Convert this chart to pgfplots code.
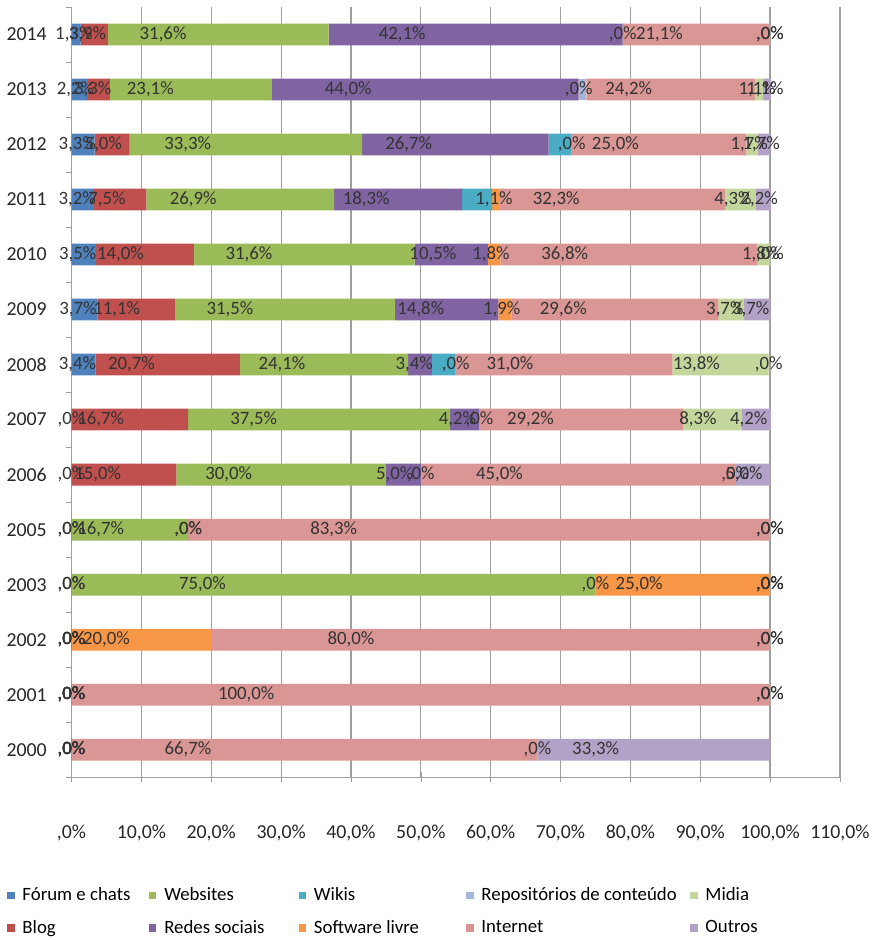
\documentclass[border=0pt]{standalone}
\usepackage{pgfplots}
\usepackage{pgfplotstable}
\pgfplotsset{compat=1.18}
\usepackage{fontspec}
\setmainfont{Carlito}

\definecolor{cForum}{HTML}{4F81BD}
\definecolor{cBlog}{HTML}{C0504D}
\definecolor{cWeb}{HTML}{9BBB59}
\definecolor{cRedes}{HTML}{8064A2}
\definecolor{cWiki}{HTML}{4BACC6}
\definecolor{cSoft}{HTML}{F79646}
\definecolor{cRepo}{HTML}{A5B8D9}
\definecolor{cNet}{HTML}{D99694}
\definecolor{cMidia}{HTML}{C3D69B}
\definecolor{cOutros}{HTML}{B3A2C7}

% pos: 0 = 2000 (bottom) ... 13 = 2014 (top)
\pgfplotstableread{
pos year F   B    W    R    Wk  S    Rp  I     M    O
0   2000 0   0    0    0    0   0    0   66.7  0    33.3
1   2001 0   0    0    0    0   0    0   100.0 0    0
2   2002 0   0    0    0    0   20.0 0   80.0  0    0
3   2003 0   0    75.0 0    0   25.0 0   0     0    0
4   2005 0   0    16.7 0    0   0    0   83.3  0    0
5   2006 0   15.0 30.0 5.0  0   0    0   45.0  0    5.0
6   2007 0   16.7 37.5 4.2  0   0    0   29.2  8.3  4.2
7   2008 3.4 20.7 24.1 3.4  3.4 0    0   31.0  13.8 0
8   2009 3.7 11.1 31.5 14.8 0   1.9  0   29.6  3.7  3.7
9   2010 3.5 14.0 31.6 10.5 0   1.8  0   36.8  1.8  0
10  2011 3.2 7.5  26.9 18.3 4.3 1.1  0   32.3  4.3  2.2
11  2012 3.3 5.0  33.3 26.7 3.3 0    0   25.0  1.7  1.7
12  2013 2.2 3.3  23.1 44.0 0   0    1.1 24.2  1.1  1.1
13  2014 1.3 3.9  31.6 42.1 0   0    0   21.1  0    0
}\datatable

% axis is 388pt wide for 110 units; the shift style gets applied twice,
% so each pass moves a quarter unit = 0.881818pt per unit
\pgfplotsset{
  half shift/.code={%
    \pgfkeys{/pgf/fpu=true,/pgf/fpu/output format=fixed}%
    \pgfmathsetmacro\halfshift{\pgfplotspointmeta*0.881818}%
    \pgfkeys{/pgf/fpu=false}%
  },
  seglabel/.style={
    nodes near coords={\pgfmathprintnumber[fixed,fixed zerofill,precision=1,use comma,skip 0.]{\pgfplotspointmeta}\%},
    nodes near coords align={anchor=center},
    every node near coord/.style={/pgfplots/half shift, xshift=-\halfshift,
      anchor=center, inner sep=0pt, text=black!80,
      font=\fontsize{9.5}{11}\selectfont},
  },
}
\newcommand\legtxt[2]{\makebox[#1][l]{#2}}

\begin{document}
\begin{tikzpicture}
\begin{axis}[
  scale only axis, width=388pt, height=389pt,
  xbar stacked, bar width=11pt,
  xmin=0, xmax=110, ymin=-0.5, ymax=13.5,
  enlargelimits=false,
  axis x line=bottom, axis y line=left,
  axis line style={-, gray!75},
  xtick={0,10,...,110},
  xticklabels={{,0\%},{10,0\%},{20,0\%},{30,0\%},{40,0\%},{50,0\%},{60,0\%},{70,0\%},{80,0\%},{90,0\%},{100,0\%},{110,0\%}},
  ytick={0,...,13},
  yticklabels={2000,2001,2002,2003,2005,2006,2007,2008,2009,2010,2011,2012,2013,2014},
  minor ytick={-0.5,0.5,...,13.5},
  major y tick style={draw=none},
  minor y tick style={draw=gray!75},
  xtick align=center, ytick align=outside,
  major tick length=5pt, minor tick length=3pt,
  x tick style={draw=gray!75},
  xmajorgrids, grid style={gray!75, line width=0.6pt},
  /pgf/number format/assume math mode=true,
  tick label style={font=\fontsize{10}{12}\selectfont, text=black!85},
  xticklabel style={yshift=-18pt},
  yticklabel style={xshift=-4pt},
  legend columns=2, transpose legend,
  legend style={at={(-0.084,-0.137)}, anchor=north west, draw=none, fill=none,
    font=\fontsize{9.5}{11}\selectfont, row sep=4.5pt, inner sep=0pt,
    nodes={anchor=west},
    /tikz/every odd column/.append style={column sep=2pt}},
  legend image code/.code={\fill[#1] (0pt,-1.8pt) rectangle (3.6pt,1.8pt);},
]
% zero-length bars get no label node, so labelled series are nudged by a hair
\addplot[fill=cForum, draw=none, seglabel, point meta=\thisrow{F}+0.0001]
  table[x expr=\thisrow{F}+0.0001, y=pos]{\datatable};
\addlegendentry{\legtxt{62pt}{Fórum e chats}}
\addplot[fill=cBlog, draw=none, seglabel, point meta=\thisrow{B}+0.0001]
  table[x expr=\thisrow{B}+0.0001, y=pos]{\datatable};
\addlegendentry{\legtxt{62pt}{Blog}}
\addplot[fill=cWeb, draw=none, seglabel, point meta=\thisrow{W}+0.0001]
  table[x expr=\thisrow{W}+0.0001, y=pos]{\datatable};
\addlegendentry{\legtxt{66pt}{Websites}}
\addplot[fill=cRedes, draw=none, seglabel, point meta=\thisrow{R}+0.0001]
  table[x expr=\thisrow{R}+0.0001, y=pos]{\datatable};
\addlegendentry{\legtxt{66pt}{Redes sociais}}
\addplot[fill=cWiki, draw=none] table[x=Wk, y=pos]{\datatable};
\addlegendentry{\legtxt{75pt}{Wikis}}
\addplot[fill=cSoft, draw=none, seglabel, point meta=\thisrow{S}+0.0001]
  table[x expr=\thisrow{S}+0.0001, y=pos]{\datatable};
\addlegendentry{\legtxt{75pt}{Software livre}}
\addplot[fill=cRepo, draw=none] table[x=Rp, y=pos]{\datatable};
\addlegendentry{\legtxt{103.5pt}{Repositórios de conteúdo}}
\addplot[fill=cNet, draw=none, seglabel, point meta=\thisrow{I}+0.0001]
  table[x expr=\thisrow{I}+0.0001, y=pos]{\datatable};
\addlegendentry{\legtxt{103.5pt}{Internet}}
\addplot[fill=cMidia, draw=none, seglabel, point meta=\thisrow{M}+0.0001]
  table[x expr=\thisrow{M}+0.0001, y=pos]{\datatable};
\addlegendentry{\legtxt{30pt}{Midia}}
\addplot[fill=cOutros, draw=none, seglabel, point meta=\thisrow{O}+0.0001]
  table[x expr=\thisrow{O}+0.0001, y=pos]{\datatable};
\addlegendentry{\legtxt{30pt}{Outros}}
\end{axis}
\path ([xshift=-33.5pt,yshift=-77.5pt]current axis.south west)
  rectangle ([xshift=16.5pt,yshift=3.5pt]current axis.north east);
\end{tikzpicture}
\end{document}
